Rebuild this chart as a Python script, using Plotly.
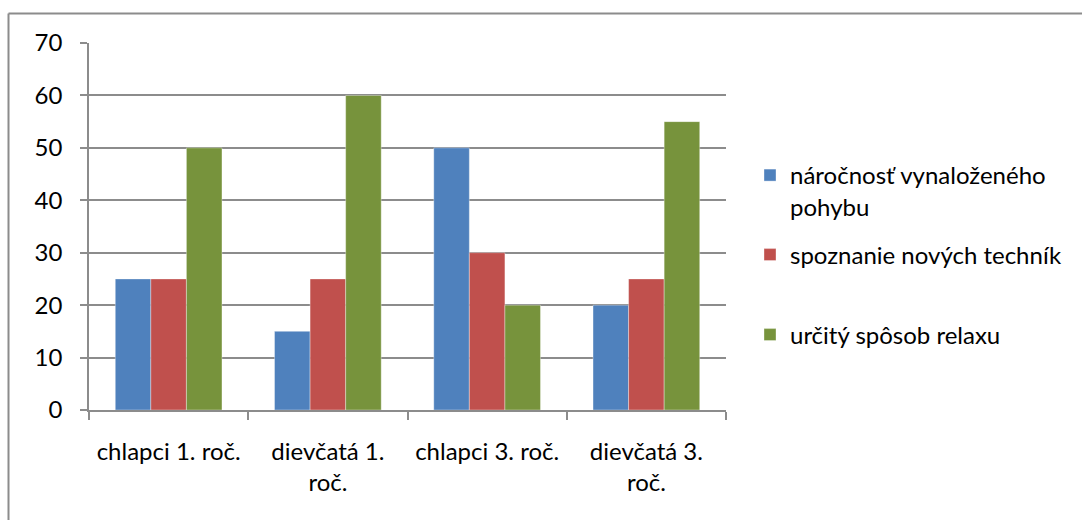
import plotly.graph_objects as go

# Categories and values for each series
categories = ["chlapci 1. roč.", "dievčatá 1.<br>roč.", "chlapci 3. roč.", "dievčatá 3.<br>roč."]
narocnost = [25, 15, 50, 20]
spoznanie = [25, 25, 30, 25]
relax = [50, 60, 20, 55]

series_names = [
    "náročnosť vynaloženého<br>pohybu",
    "spoznanie nových techník",
    "určitý spôsob relaxu",
]
colors = ["#4F81BD", "#C0504D", "#77933C"]
y_ticks = [0, 10, 20, 30, 40, 50, 60, 70]

FONT = "Lato"
FS = 24
GRID = "#8C8C8C"

W, H = 1082, 520
L, R, T, B = 89, 726, 43, 410  # plot area in pixels


def px_x(x):
    return (x - L) / (R - L)


def px_y(y):
    return (B - y) / (B - T)


fig = go.Figure()
legend_keys = ["legend", "legend2", "legend3"]
for name, vals, col, lg in zip(series_names, [narocnost, spoznanie, relax], colors, legend_keys):
    fig.add_trace(go.Bar(
        x=categories, y=vals, name=name,
        marker=dict(color=col, line=dict(color="rgba(255,255,255,0.35)", width=1)),
        legend=lg, showlegend=True,
    ))

legend_style = dict(
    font=dict(family=FONT, size=FS, color="#000000"),
    bgcolor="rgba(0,0,0,0)", borderwidth=0,
    xanchor="left", yanchor="middle", valign="top",
    itemclick=False, itemdoubleclick=False,
)

fig.update_layout(
    width=W, height=H,
    margin=dict(l=L, r=W - R, t=T, b=H - B),
    paper_bgcolor="white", plot_bgcolor="white",
    barmode="group", bargap=0.33, bargroupgap=0,
    showlegend=True,
    font=dict(family=FONT, size=FS, color="#000000"),
    legend=dict(x=px_x(750), y=px_y(191), **legend_style),
    legend2=dict(x=px_x(750), y=px_y(255), **legend_style),
    legend3=dict(x=px_x(750), y=px_y(335), **legend_style),
    xaxis=dict(
        showgrid=False, showline=True, linecolor=GRID, linewidth=1.5,
        ticks="outside", ticklen=8, tickcolor=GRID, tickwidth=1.5,
        tickson="boundaries", ticklabelstandoff=19,
        tickfont=dict(family=FONT, size=FS, color="#000000"),
        fixedrange=True,
    ),
    yaxis=dict(
        range=[0, 70], tickvals=y_ticks,
        showgrid=True, gridcolor=GRID, gridwidth=1.5,
        showline=True, linecolor=GRID, linewidth=1.5,
        ticks="outside", ticklen=7, tickcolor=GRID, tickwidth=1.5,
        ticklabelstandoff=13, zeroline=False,
        tickfont=dict(family=FONT, size=FS, color="#000000"),
        fixedrange=True,
    ),
    shapes=[
        # chart-area frame (top and left edges)
        dict(type="line", xref="paper", yref="paper",
             x0=px_x(8.5), x1=px_x(1090), y0=px_y(13.5), y1=px_y(13.5),
             line=dict(color="#8C8C8C", width=2)),
        dict(type="line", xref="paper", yref="paper",
             x0=px_x(8.5), x1=px_x(8.5), y0=px_y(13.5), y1=px_y(530),
             line=dict(color="#8C8C8C", width=2)),
    ],
)

fig.write_html("out.html")
